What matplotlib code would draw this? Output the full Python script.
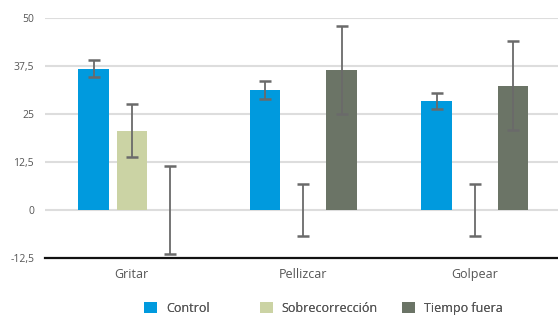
import matplotlib
matplotlib.use("Agg")
import matplotlib.pyplot as plt
import numpy as np
from matplotlib.patches import Patch

categories = ["Gritar", "Pellizcar", "Golpear"]
series_names = ["Control", "Sobrecorrección", "Tiempo fuera"]
control = [36.8, 31.3, 28.5]
control_err = [2.2, 2.4, 2.1]
sobre = [20.7, 0.0, 0.0]
sobre_err = [6.8, 6.8, 6.8]
tiempo = [0.0, 36.4, 32.4]
tiempo_err = [11.5, 11.5, 11.5]
yticks = [-12.5, 0, 12.5, 25, 37.5, 50]
ytick_labels = ["-12,5", "0", "12,5", "25", "37,5", "50"]

colors = ["#009ADE", "#CBD3A4", "#6B7466"]
plt.rcParams['font.family'] = ['Open Sans', 'DejaVu Sans']

fig = plt.figure(figsize=(5.58, 3.17), dpi=100)
ax = fig.add_axes([0.081, 0.186, 0.919, 0.757])

x = np.arange(len(categories))
w = 0.178
off = 0.223
data = [(control, control_err), (sobre, sobre_err), (tiempo, tiempo_err)]
for i, (vals, errs) in enumerate(data):
    pos = x + (i - 1) * off
    ax.bar(pos, vals, width=w, color=colors[i], zorder=2)
    ax.errorbar(pos, vals, yerr=errs, fmt='none', ecolor='#6a6a6a',
                elinewidth=1.3, capsize=4.5, capthick=1.8, zorder=3)

ax.set_xlim(-0.505, 2.485)
ax.set_ylim(-12.5, 50)
ax.set_yticks(yticks)
ax.set_yticklabels(ytick_labels)
ax.set_xticks(x)
ax.set_xticklabels(categories)
ax.tick_params(axis='y', length=0, labelsize=7.5, labelcolor='#555555', pad=8)
ax.tick_params(axis='x', length=0, labelsize=9, labelcolor='#555555', pad=7)
for yv in yticks[1:]:
    ax.axhline(yv, color='#DDDDDD', lw=1.5, zorder=1)
for s in ['top', 'right', 'left']:
    ax.spines[s].set_visible(False)
ax.spines['bottom'].set_color('#111111')
ax.spines['bottom'].set_linewidth(1.6)

legend_x = [144 / 558, 260 / 558, 402 / 558]
for c, name, lx in zip(colors, series_names, legend_x):
    leg = fig.legend([Patch(facecolor=c, edgecolor='none')], [name], loc='center left',
                     bbox_to_anchor=(lx, 0.028), frameon=False, fontsize=9,
                     labelcolor='#555555', handlelength=1.05, handleheight=1.05,
                     handletextpad=0.7, borderpad=0, borderaxespad=0)
    fig.add_artist(leg)

fig.savefig("out.png", dpi=100)
